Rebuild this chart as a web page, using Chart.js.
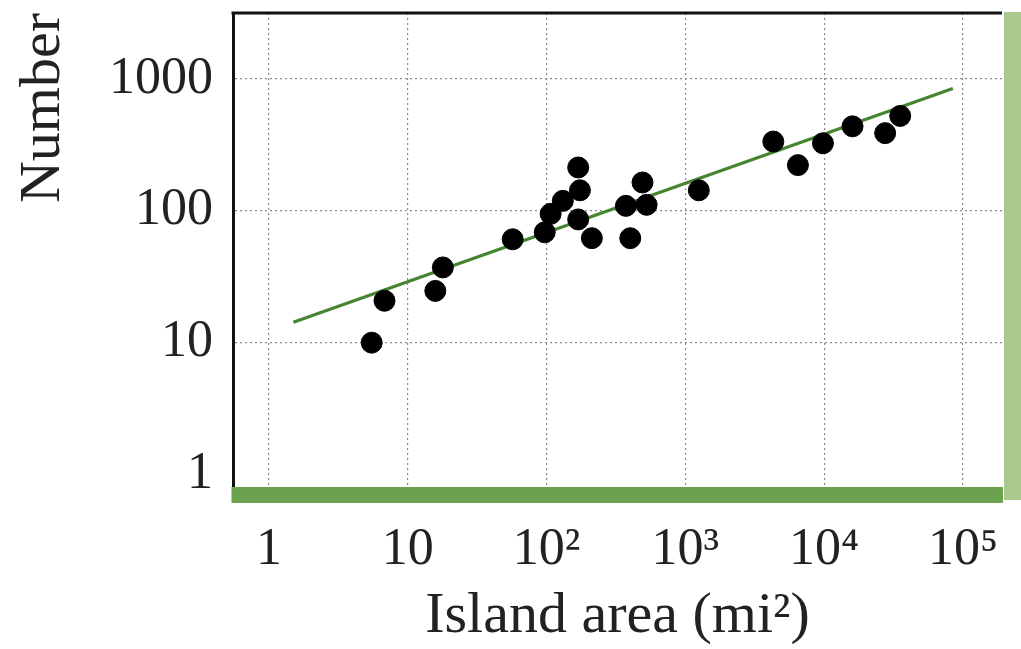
<!DOCTYPE html>
<html>
<head>
<meta charset="utf-8">
<script src="https://cdn.jsdelivr.net/npm/chart.js@4.4.1/dist/chart.umd.min.js"></script>
<style>
  html, body { margin: 0; padding: 0; background: #fff; }
  #wrap { width: 1021px; height: 649px; }
</style>
</head>
<body>
<div id="wrap"><canvas id="chart-01"></canvas></div>
<script>
// Island area vs number of species (log-log)
const areas   = [5.5, 6.8, 15.8, 17.9, 57, 97, 107, 131, 169, 174, 169, 212, 373, 401, 491, 526, 1250, 4300, 6470, 9800, 16000, 27500, 35300];
const species = [10, 20.8, 24.7, 37.2, 60.8, 68.7, 94.8, 119, 213, 143, 86, 62, 109, 62, 164, 111, 143, 335, 222, 325, 437, 388, 524];

// fitted line end points
const fitX = [1.5, 84500];
const fitY = [14.3, 845];

const xTickValues = [1, 10, 100, 1000, 10000, 100000];
const xTickLabels = ['1', '10', '10²', '10³', '10⁴', '10⁵'];
const yTickValues = [1, 10, 100, 1000];
const yTickLabels = ['1', '10', '100', '1000'];

const serif = "'Liberation Serif', 'Times New Roman', serif";

const ctx = document.getElementById('chart-01').getContext('2d');

const chart_01_data = {
    datasets: [{
        label: 'Islands',
        data: areas.map((a, i) => ({x: a, y: species[i]})),
        backgroundColor: '#000',
        borderColor: '#000',
        pointRadius: 10.5,
        pointHoverRadius: 10.5,
    },
    {
        label: 'Fit',
        data: fitX.map((a, i) => ({x: a, y: fitY[i]})),
        showLine: true,
        borderColor: '#468530',
        borderWidth: 3.2,
        pointRadius: 0,
    }]
}

// top black rule, green bar along the bottom, light green strip on the right
const framePlugin = {
    id: 'frame',
    afterDatasetsDraw(chart) {
        const {ctx, chartArea: a} = chart;
        ctx.save();
        ctx.strokeStyle = '#111';
        ctx.lineWidth = 3;
        ctx.beginPath();
        ctx.moveTo(a.left - 1.5, a.top);
        ctx.lineTo(a.right, a.top);
        ctx.stroke();
        ctx.fillStyle = '#6ba24f';
        ctx.fillRect(a.left - 1.5, a.bottom - 8, a.right - a.left + 2.5, 16);
        ctx.fillStyle = '#a9c88e';
        ctx.fillRect(a.right + 2, a.top - 1, 19, a.bottom - a.top + 6);
        ctx.restore();
    }
};

const chart_01 = new Chart(ctx, {
    type: 'scatter',
    data: chart_01_data,
    plugins: [framePlugin],
    options: {
        responsive: true,
        maintainAspectRatio: false,
        animation: false,
        layout: {
            padding: {top: 13, right: 19, left: 0, bottom: 0}
        },
        plugins: {
            legend: { display: false },
            tooltip: { enabled: false }
        },
        scales: {
            x: {
                type: 'logarithmic',
                min: 0.551,
                max: 191000,
                afterFit(scale) {
                    scale.height = 154;
                    scale.paddingLeft = 0;
                    scale.paddingRight = 0;
                },
                afterBuildTicks(axis) { axis.ticks = xTickValues.map(v => ({value: v})); },
                ticks: {
                    autoSkip: false,
                    maxRotation: 0,
                    padding: 24,
                    color: '#222',
                    font: { family: serif, size: 52 },
                    callback: (v) => xTickLabels[xTickValues.indexOf(v)]
                },
                grid: {
                    color: '#8a8a8a',
                    lineWidth: 1.2,
                    drawTicks: false
                },
                border: {
                    display: false,
                    dash: [2, 3]
                },
                title: {
                    display: true,
                    text: 'Island area (mi²)',
                    color: '#222',
                    font: { family: serif, size: 58, lineHeight: 1.1 },
                    padding: 0
                }
            },
            y: {
                type: 'logarithmic',
                min: 0.7185,
                max: 3160,
                afterFit(scale) {
                    scale.width = 233;
                    scale.paddingTop = 0;
                    scale.paddingBottom = 0;
                },
                afterBuildTicks(axis) { axis.ticks = yTickValues.map(v => ({value: v})); },
                ticks: {
                    autoSkip: false,
                    padding: 20,
                    color: '#222',
                    font: { family: serif, size: 52 },
                    callback: (v) => yTickLabels[yTickValues.indexOf(v)]
                },
                grid: {
                    color: (c) => (c.tick && c.tick.value === 1) ? 'rgba(0,0,0,0)' : '#8a8a8a',
                    lineWidth: 1.2,
                    drawTicks: false
                },
                border: {
                    color: '#111',
                    width: 3,
                    dash: [2, 3]
                },
                title: {
                    display: true,
                    text: 'Number',
                    align: 'end',
                    color: '#222',
                    font: { family: serif, size: 58 },
                    padding: {top: 9, bottom: 0}
                }
            }
        }
    }
});
</script>
</body>
</html>
